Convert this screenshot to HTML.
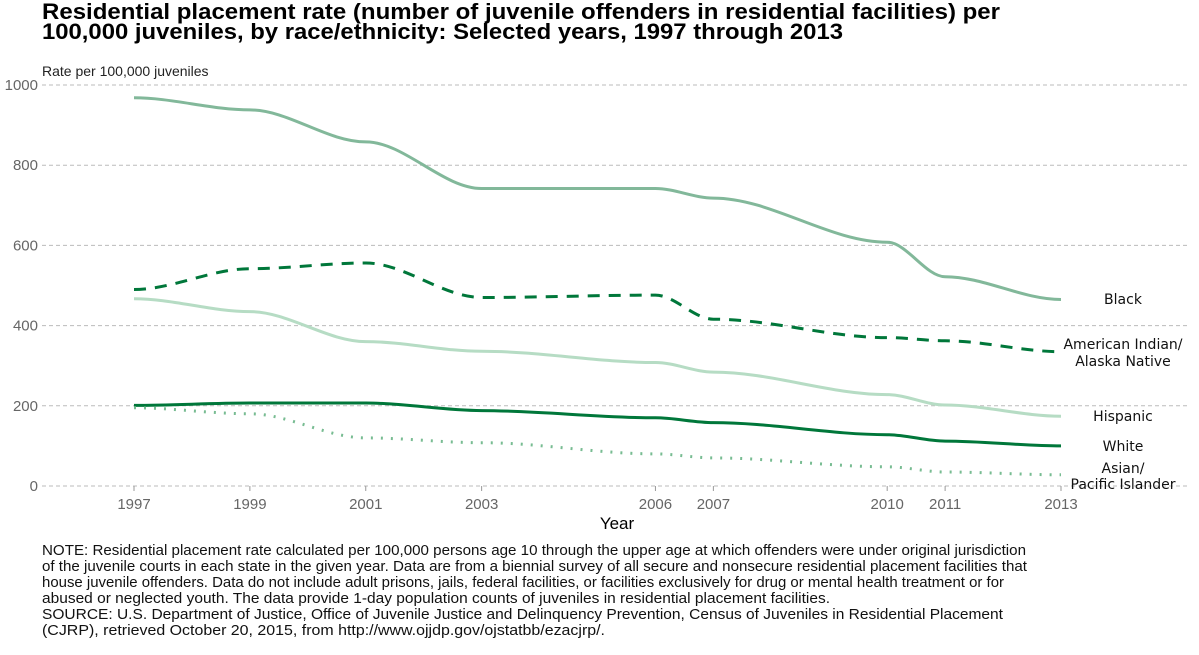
<!DOCTYPE html>
<html><head><meta charset="utf-8"><style>
body{margin:0;background:#fff;width:1199px;height:650px;overflow:hidden;font-family:"Liberation Sans",sans-serif}
</style></head><body>
<svg width="1199" height="650" xmlns="http://www.w3.org/2000/svg">
<text x="42" y="19" font-size="22" font-weight="bold" fill="#000" textLength="958" lengthAdjust="spacingAndGlyphs">Residential placement rate (number of juvenile offenders in residential facilities) per</text>
<text x="42" y="39" font-size="22" font-weight="bold" fill="#000" textLength="801" lengthAdjust="spacingAndGlyphs">100,000 juveniles, by race/ethnicity: Selected years, 1997 through 2013</text>
<text x="42" y="76" font-size="14" fill="#222">Rate per 100,000 juveniles</text>
<g id="grid"></g><g id="series"></g><g id="labels"></g>
<text x="617" y="529" font-size="17" text-anchor="middle" fill="#000">Year</text>
<g font-size="14.5" fill="#111" lengthAdjust="spacingAndGlyphs">
<text x="42" y="555" textLength="984" lengthAdjust="spacingAndGlyphs">NOTE: Residential placement rate calculated per 100,000 persons age 10 through the upper age at which offenders were under original jurisdiction</text>
<text x="42" y="571" textLength="985" lengthAdjust="spacingAndGlyphs">of the juvenile courts in each state in the given year. Data are from a biennial survey of all secure and nonsecure residential placement facilities that</text>
<text x="42" y="587" textLength="962" lengthAdjust="spacingAndGlyphs">house juvenile offenders. Data do not include adult prisons, jails, federal facilities, or facilities exclusively for drug or mental health treatment or for</text>
<text x="42" y="603" textLength="788" lengthAdjust="spacingAndGlyphs">abused or neglected youth. The data provide 1-day population counts of juveniles in residential placement facilities.</text>
<text x="42" y="619" textLength="961" lengthAdjust="spacingAndGlyphs">SOURCE: U.S. Department of Justice, Office of Juvenile Justice and Delinquency Prevention, Census of Juveniles in Residential Placement</text>
<text x="42" y="635" textLength="563" lengthAdjust="spacingAndGlyphs">(CJRP), retrieved October 20, 2015, from http://www.ojjdp.gov/ojstatbb/ezacjrp/.</text>
</g>
</svg>
<script>
const years=[1997,1999,2001,2003,2006,2007,2010,2011,2013];
const yTicks=[0,200,400,600,800,1000];
const black=[968,938,858,742,742,718,608,522,465];
const aian=[490,542,556,470,476,416,370,362,335];
const hispanic=[467,435,360,336,308,284,228,202,174];
const white=[201,207,207,188,170,158,128,112,100];
const asian=[195,180,120,108,80,70,48,35,28];
const NS='http://www.w3.org/2000/svg';
const x=v=>134+(v-1997)*(1061-134)/16;
const y=v=>486-v*(486-85)/1000;
function mk(t,a,p){const e=document.createElementNS(NS,t);for(const k in a)e.setAttribute(k,a[k]);p.appendChild(e);return e;}
const grid=document.getElementById('grid');
yTicks.forEach(t=>{
  const l=mk('line',{x1:42,x2:1190,y1:y(t),y2:y(t),stroke:'#bbb','stroke-dasharray':'4,3'},grid);
  
  
  const tx=mk('text',{x:38,y:y(t)+5,'font-size':15,'text-anchor':'end',fill:'#666'},grid);tx.textContent=t;
  
  
});
years.forEach(v=>{
  const l=mk('line',{x1:x(v),x2:x(v),y1:486,y2:491,stroke:'#999'},grid);
  
  
  const tx=mk('text',{x:x(v),y:509,'font-size':15,'text-anchor':'middle',fill:'#666'},grid);tx.textContent=v;
  
  
});
function smooth(xs,ys){
  let d='M'+xs[0].toFixed(1)+','+ys[0].toFixed(1);
  for(let i=0;i<xs.length-1;i++){
    const x0=xs[i],x1=xs[i+1],y0=ys[i],y1=ys[i+1];
    const dx=(x1-x0)/3;
    d+=' C'+(x0+dx).toFixed(1)+','+y0.toFixed(1)+' '+(x1-dx).toFixed(1)+','+y1.toFixed(1)+' '+x1.toFixed(1)+','+y1.toFixed(1);
  }
  return d;
}
const ser=document.getElementById('series');
const defs=[[black,'#82b89a','','series-black'],[aian,'#00773a','12,9','series-american-indian'],[hispanic,'#b6dcc4','','series-hispanic'],[white,'#00773a','','series-white'],[asian,'#78bc92','2,8','series-asian']];
defs.forEach(d=>{
  const xs=years.map(x),ys=d[0].map(y);
  const p=mk('path',{d:smooth(xs,ys),fill:'none',stroke:d[1],'stroke-width':3,'stroke-dasharray':d[2]},ser);
  
  
});
const lab=document.getElementById('labels');
[['Black',304],['American Indian/',349],['Alaska Native',366],['Hispanic',421],['White',451],['Asian/',473],['Pacific Islander',489]].forEach(a=>{
  const t=mk('text',{x:1123,y:a[1],'font-size':14,'text-anchor':'middle',fill:'#111','font-family':'DejaVu Sans, sans-serif'},lab);t.textContent=a[0];
  
  
});
</script>
</body></html>
